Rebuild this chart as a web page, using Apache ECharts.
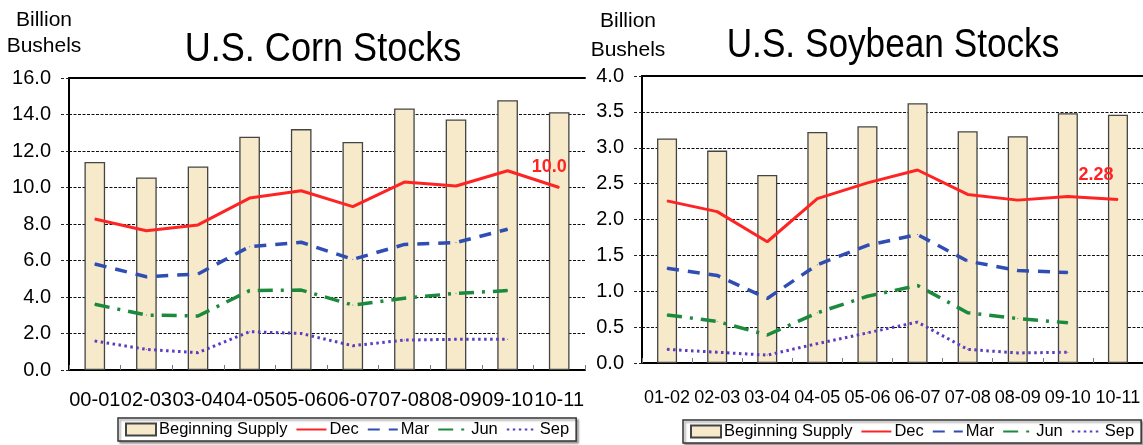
<!DOCTYPE html>
<html>
<head>
<meta charset="utf-8">
<script src="https://cdn.jsdelivr.net/npm/echarts@6/dist/echarts.min.js"></script>
<style>
html,body{margin:0;padding:0;background:#fff;}
#c{width:1143px;height:445px;}
</style>
</head>
<body>
<div id="c"></div>
<script>
// ---- data ----
const cornCategories = ['00-01','02-03','03-04','04-05','05-06','06-07','07-08','08-09','09-10','10-11'];
const cornSupply = [11.4, 10.55, 11.15, 12.78, 13.2, 12.5, 14.33, 13.73, 14.78, 14.12];
const cornDec = [8.27, 7.63, 7.95, 9.42, 9.82, 8.95, 10.3, 10.08, 10.92, 10.0];
const cornMar = [5.81, 5.11, 5.26, 6.76, 7.0, 6.06, 6.88, 6.98, 7.71, null];
const cornJun = [3.6, 3.01, 2.96, 4.35, 4.38, 3.56, 3.93, 4.2, 4.35, null];
const cornSep = [1.59, 1.13, 0.95, 2.1, 2.0, 1.33, 1.64, 1.68, 1.68, null];

const soyCategories = ['01-02','02-03','03-04','04-05','05-06','06-07','07-08','08-09','09-10','10-11'];
const soySupply = [3.13, 2.96, 2.62, 3.22, 3.30, 3.62, 3.23, 3.16, 3.48, 3.46];
const soyDec = [2.26, 2.11, 1.69, 2.29, 2.51, 2.69, 2.35, 2.27, 2.32, 2.28];
const soyMar = [1.32, 1.22, 0.9, 1.37, 1.64, 1.79, 1.42, 1.29, 1.26, null];
const soyJun = [0.67, 0.58, 0.39, 0.70, 0.93, 1.08, 0.70, 0.62, 0.56, null];
const soySep = [0.19, 0.15, 0.11, 0.27, 0.42, 0.57, 0.19, 0.14, 0.15, null];

const legendNames = ['Beginning Supply', 'Dec', 'Mar', 'Jun', 'Sep'];
const cornTicks = {min: 0, max: 16, interval: 2};
const soyTicks = {min: 0, max: 4, interval: 0.5};

// ---- styles ----
const FONT = '"Liberation Sans", Arial, sans-serif';
const barFill = '#F6EACB';
const styles = {
  Dec: {color: '#FF2424', width: 3, type: 'solid'},
  Mar: {color: '#2F4DB3', width: 3.5, type: [12, 9]},
  Jun: {color: '#1C8A3C', width: 3.5, type: [15, 8, 3, 8]},
  Sep: {color: '#5A3DBE', width: 3, type: [2.5, 3.5]}
};

function yAxis(gridIndex, t, decimals) {
  return {
    type: 'value', gridIndex, min: t.min, max: t.max, interval: t.interval,
    axisLine: {show: true, lineStyle: {color: '#000', width: 2}},
    axisTick: {show: true, inside: false, length: 8, lineStyle: {color: '#222', width: 1, type: [3, 2]}},
    axisLabel: {fontSize: 20, color: '#000', fontFamily: FONT, margin: 18,
      formatter: v => v.toFixed(decimals)},
    splitLine: {show: true, lineStyle: {color: '#111', width: 1, type: [3, 1.5]}}
  };
}
function xAxes(gridIndex, cats, labelSize, margin) {
  return [
    {type: 'category', gridIndex, data: cats, position: 'bottom',
      axisLine: {show: true, lineStyle: {color: '#000', width: 2}},
      axisTick: {show: true, inside: true, length: 5, lineStyle: {color: '#777'}},
      axisLabel: {interval: 0, fontSize: labelSize, color: '#000', fontFamily: FONT, margin}},
    {type: 'category', gridIndex, data: cats, position: 'bottom',
      axisLine: {show: false},
      axisTick: {show: true, inside: true, alignWithLabel: true, length: 5, lineStyle: {color: '#777'}},
      axisLabel: {show: false}},
    {type: 'category', gridIndex, data: cats, position: 'top',
      axisLine: {show: true, lineStyle: {color: '#000', width: 2}},
      axisTick: {show: false}, axisLabel: {show: false}}
  ];
}
function lineSeries(name, data, xi, yi, labelOffset, decimals) {
  const s = styles[name];
  const last = data.length - 1;
  const d = data.map((v, i) => (labelOffset && i === last) ? {
    value: v,
    label: {show: true, position: 'top', distance: 5, offset: labelOffset, color: '#FF2424',
      fontWeight: 'bold', fontSize: 18, fontFamily: FONT,
      formatter: p => Number(p.value).toFixed(decimals)}
  } : v);
  return {
    name, type: 'line', xAxisIndex: xi, yAxisIndex: yi, data: d,
    symbol: 'circle', symbolSize: 1, showSymbol: true, z: 5, connectNulls: false,
    lineStyle: {color: s.color, width: s.width, type: s.type},
    itemStyle: {color: s.color}
  };
}
function barSeries(data, xi, yi) {
  return {
    name: 'Beginning Supply', type: 'bar', xAxisIndex: xi, yAxisIndex: yi, data,
    barWidth: '40%', z: 2,
    itemStyle: {color: barFill, borderColor: '#444', borderWidth: 1.3}
  };
}
function legend(left, top) {
  return {
    left, top, orient: 'horizontal',
    data: legendNames.map((n, i) => i === 0 ? {name: n, icon: 'rect'} : {name: n, itemStyle: {opacity: 0}}),
    itemWidth: 30, itemHeight: 12, itemGap: 8, selectedMode: false,
    padding: [3, 7], borderColor: '#333', borderWidth: 1.5, backgroundColor: '#fff',
    shadowColor: 'rgba(0,0,0,0.35)', shadowOffsetX: 2, shadowOffsetY: 2, shadowBlur: 2,
    textStyle: {fontSize: 16.5, color: '#000', fontFamily: FONT, padding: [0, 0, 0, -2]}
  };
}

const option = {
  animation: false,
  backgroundColor: '#fff',
  grid: [
    {left: 69, top: 78, width: 516, height: 292},
    {left: 642, top: 76, width: 508, height: 287}
  ],
  xAxis: [].concat(
    xAxes(0, cornCategories, 20, 20),
    xAxes(1, soyCategories, 18, 26)
  ),
  yAxis: [yAxis(0, cornTicks, 1), yAxis(1, soyTicks, 1)],
  legend: [legend(118, 418), legend(683, 420)],
  graphic: [
    {type: 'text', x: 44, y: 20, style: {text: 'Billion', fontSize: 21, fontFamily: FONT, fill: '#000', textAlign: 'center', textVerticalAlign: 'middle'}},
    {type: 'text', x: 44, y: 46, style: {text: 'Bushels', fontSize: 21, fontFamily: FONT, fill: '#000', textAlign: 'center', textVerticalAlign: 'middle'}},
    {type: 'text', x: 628, y: 21, style: {text: 'Billion', fontSize: 21, fontFamily: FONT, fill: '#000', textAlign: 'center', textVerticalAlign: 'middle'}},
    {type: 'text', x: 628, y: 50, style: {text: 'Bushels', fontSize: 21, fontFamily: FONT, fill: '#000', textAlign: 'center', textVerticalAlign: 'middle'}},
    {type: 'text', x: 323, y: 50, scaleX: 0.88, style: {text: 'U.S. Corn Stocks', fontSize: 41, fontFamily: FONT, fill: '#000', textAlign: 'center', textVerticalAlign: 'middle'}},
    {type: 'text', x: 893, y: 46, scaleX: 0.88, style: {text: 'U.S. Soybean Stocks', fontSize: 40, fontFamily: FONT, fill: '#000', textAlign: 'center', textVerticalAlign: 'middle'}}
  ],
  series: [
    barSeries(cornSupply, 0, 0),
    lineSeries('Dec', cornDec, 0, 0, [-10, -6], 1),
    lineSeries('Mar', cornMar, 0, 0),
    lineSeries('Jun', cornJun, 0, 0),
    lineSeries('Sep', cornSep, 0, 0),
    barSeries(soySupply, 3, 1),
    lineSeries('Dec', soyDec, 3, 1, [-22, -10], 2),
    lineSeries('Mar', soyMar, 3, 1),
    lineSeries('Jun', soyJun, 3, 1),
    lineSeries('Sep', soySep, 3, 1)
  ]
};
const chart = echarts.init(document.getElementById('c'), null, {renderer: 'canvas'});
chart.setOption(option);
</script>
</body>
</html>
